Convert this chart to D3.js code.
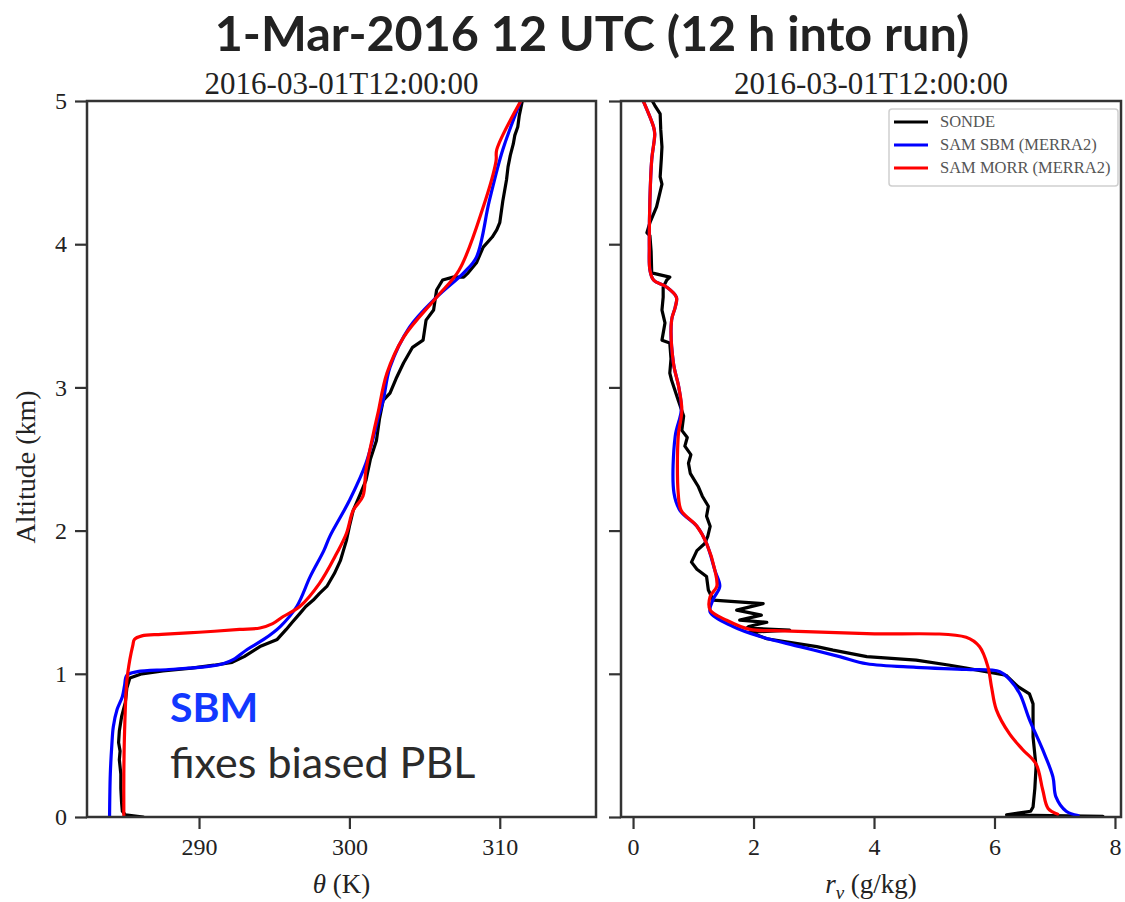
<!DOCTYPE html>
<html>
<head>
<meta charset="utf-8">
<script src="https://cdn.jsdelivr.net/npm/d3@7"></script>
<style>
  html, body { margin: 0; padding: 0; background: #fff; }
  svg { display: block; }
</style>
</head>
<body>
<svg id="chart" width="1125" height="902"></svg>
<script>
// ---- Sounding data: altitude (km) and matching profile values ----
const sondeThetaZ = [0.00, 0.015, 0.04, 0.10, 0.20, 0.30, 0.40, 0.46, 0.52, 0.60, 0.70, 0.80, 0.90, 0.97, 1.00, 1.02, 1.04, 1.06, 1.08, 1.12, 1.19, 1.24, 1.31, 1.36, 1.42, 1.47, 1.515, 1.56, 1.61, 1.70, 1.79, 1.86, 1.93, 2.03, 2.14, 2.25, 2.35, 2.50, 2.63, 2.78, 2.91, 2.96, 3.06, 3.17, 3.28, 3.33, 3.40, 3.47, 3.54, 3.61, 3.68, 3.75, 3.77, 3.77, 3.80, 3.87, 3.98, 4.05, 4.10, 4.15, 4.30, 4.45, 4.54, 4.62, 4.70, 4.76, 4.82, 4.90, 5.00];
const sondeTheta  = [286.3, 285.1, 284.9, 284.85, 284.8, 284.8, 284.7, 284.75, 284.65, 284.7, 284.85, 285.1, 285.2, 285.4, 286.2, 287.6, 289.5, 291.0, 292.2, 293.0, 294.05, 295.2, 295.8, 296.2, 296.7, 297.1, 297.6, 298.0, 298.5, 299.0, 299.4, 299.6, 299.8, 300.0, 300.25, 300.7, 301.1, 301.4, 301.8, 302.0, 302.25, 302.7, 303.1, 303.6, 304.2, 304.9, 305.0, 305.1, 305.6, 305.7, 305.8, 306.2, 306.9, 307.6, 307.9, 308.45, 308.9, 309.5, 309.8, 310.0, 310.2, 310.45, 310.55, 310.7, 310.9, 311.0, 311.2, 311.3, 311.5];

const sbmThetaZ = [0.00, 0.30, 0.50, 0.63, 0.75, 0.84, 0.92, 0.99, 1.015, 1.03, 1.05, 1.07, 1.10, 1.17, 1.24, 1.33, 1.47, 1.68, 1.86, 1.96, 2.21, 2.47, 2.82, 2.91, 3.14, 3.42, 3.63, 3.80, 3.91, 4.30, 4.66, 5.00];
const sbmTheta  = [284.05, 284.1, 284.2, 284.3, 284.55, 284.9, 285.05, 285.2, 285.9, 288.0, 290.5, 291.6, 292.3, 293.2, 294.3, 295.4, 296.5, 297.4, 298.3, 298.7, 300.0, 301.1, 302.0, 302.25, 302.7, 304.0, 305.8, 307.6, 308.45, 309.3, 310.2, 311.4];

const morrThetaZ = [0.00, 0.30, 0.60, 0.95, 1.10, 1.20, 1.24, 1.265, 1.275, 1.29, 1.31, 1.32, 1.35, 1.40, 1.47, 1.63, 1.84, 1.98, 2.14, 2.24, 2.42, 2.68, 2.82, 3.10, 3.35, 3.63, 3.82, 4.26, 4.58, 4.66, 5.00];
const morrTheta  = [285.0, 285.0, 285.05, 285.2, 285.4, 285.6, 285.7, 286.2, 287.5, 290.0, 292.7, 294.05, 294.9, 295.6, 296.7, 298.0, 299.15, 299.8, 300.25, 300.9, 301.1, 301.6, 301.9, 302.5, 303.6, 305.8, 307.3, 308.9, 309.75, 309.8, 311.4];

const sondeRvZ = [0.005, 0.015, 0.04, 0.07, 0.20, 0.35, 0.56, 0.79, 0.86, 0.91, 0.99, 1.04, 1.06, 1.095, 1.12, 1.165, 1.19, 1.245, 1.29, 1.305, 1.32, 1.33, 1.36, 1.375, 1.41, 1.445, 1.49, 1.515, 1.585, 1.68, 1.73, 1.78, 1.86, 1.91, 1.96, 2.03, 2.10, 2.17, 2.24, 2.31, 2.40, 2.47, 2.53, 2.59, 2.65, 2.70, 2.80, 2.91, 3.05, 3.10, 3.20, 3.31, 3.33, 3.45, 3.54, 3.63, 3.70, 3.75, 3.77, 3.80, 3.95, 4.06, 4.08, 4.15, 4.26, 4.42, 4.47, 4.60, 4.68, 4.80, 4.91, 4.97, 5.00];
const sondeRv  = [7.80, 6.20, 6.60, 6.64, 6.67, 6.69, 6.64, 6.64, 6.58, 6.39, 6.19, 5.53, 5.26, 4.70, 3.88, 3.32, 3.05, 2.22, 1.94, 2.60, 1.89, 1.92, 2.22, 1.77, 2.13, 1.72, 2.16, 1.33, 1.25, 1.22, 1.06, 0.97, 1.06, 1.19, 1.24, 1.28, 1.22, 1.25, 1.15, 1.08, 0.95, 0.92, 0.96, 0.86, 0.90, 0.81, 0.84, 0.75, 0.64, 0.61, 0.63, 0.61, 0.48, 0.53, 0.48, 0.50, 0.50, 0.56, 0.61, 0.31, 0.30, 0.28, 0.23, 0.28, 0.39, 0.48, 0.45, 0.47, 0.48, 0.46, 0.45, 0.36, 0.32];

const sbmRvZ = [0.01, 0.04, 0.14, 0.28, 0.47, 0.68, 0.86, 0.96, 1.015, 1.03, 1.045, 1.07, 1.12, 1.19, 1.26, 1.33, 1.43, 1.52, 1.61, 1.72, 1.91, 2.03, 2.14, 2.26, 2.66, 2.84, 3.00, 3.17, 3.47, 3.56, 3.63, 3.70, 3.75, 3.82, 3.98, 4.31, 4.59, 4.77, 4.82, 5.00];
const sbmRv  = [7.39, 7.19, 7.02, 6.97, 6.80, 6.58, 6.42, 6.25, 6.09, 5.53, 4.70, 3.88, 3.43, 2.77, 2.11, 1.66, 1.28, 1.33, 1.44, 1.36, 1.22, 1.06, 0.78, 0.68, 0.70, 0.80, 0.76, 0.67, 0.64, 0.70, 0.72, 0.56, 0.34, 0.28, 0.27, 0.28, 0.31, 0.36, 0.34, 0.17];

const morrRvZ = [0.02, 0.06, 0.19, 0.37, 0.47, 0.58, 0.75, 0.91, 1.05, 1.19, 1.255, 1.28, 1.30, 1.31, 1.375, 1.445, 1.54, 1.61, 1.72, 1.91, 2.03, 2.14, 2.26, 2.66, 2.84, 3.00, 3.17, 3.47, 3.56, 3.63, 3.70, 3.75, 3.82, 3.98, 4.31, 4.59, 4.77, 4.82, 5.00];
const morrRv  = [7.05, 6.89, 6.80, 6.69, 6.47, 6.25, 6.03, 5.95, 5.89, 5.75, 5.53, 3.88, 2.49, 1.94, 1.55, 1.28, 1.28, 1.39, 1.36, 1.22, 1.06, 0.80, 0.75, 0.75, 0.81, 0.76, 0.67, 0.64, 0.70, 0.72, 0.56, 0.34, 0.28, 0.27, 0.28, 0.31, 0.36, 0.34, 0.17];

const altTicks   = [0, 1, 2, 3, 4, 5];
const thetaTicks = [290, 300, 310];
const rvTicks    = [0, 2, 4, 6, 8];

const seriesNames  = ["SONDE", "SAM SBM (MERRA2)", "SAM MORR (MERRA2)"];
const seriesColors = ["#000000", "#0000ff", "#ff0000"];

const mainTitle  = "1-Mar-2016 12 UTC (12 h into run)";
const panelTitle = "2016-03-01T12:00:00";

// ---- Layout ----
const svg = d3.select("#chart");
const SERIF = "'Liberation Serif', 'DejaVu Serif', serif";
const SANS = "Lato, 'Open Sans', sans-serif";
const frameColor = "#333";

const y = d3.scaleLinear().domain([0, 5]).range([817, 101]);
const xTheta = d3.scaleLinear().domain([282.55, 316.4]).range([87, 596]);
const xRv = d3.scaleLinear().domain([-0.2, 8.1]).range([621, 1121]);

const zip = (zs, vs) => zs.map((z, i) => ({ z, v: vs[i] }));

function panel(id, x, ticks, curves, xlabelNode, showYLabels) {
  const [x0, x1] = x.range();
  const g = svg.append("g").attr("class", id);

  g.append("clipPath").attr("id", "clip-" + id)
    .append("rect").attr("x", x0).attr("y", y(5)).attr("width", x1 - x0).attr("height", y(0) - y(5));

  const plot = g.append("g").attr("clip-path", `url(#clip-${id})`);
  curves.forEach(c => {
    const line = d3.line().x(d => x(d.v)).y(d => y(d.z))
      .curve(c.smooth ? d3.curveCatmullRom.alpha(0.5) : d3.curveLinear);
    plot.append("path").datum(c.data)
      .attr("fill", "none").attr("stroke", c.color).attr("stroke-width", 3.2)
      .attr("stroke-linejoin", "round").attr("stroke-linecap", "round")
      .attr("d", line);
  });

  // frame
  g.append("rect").attr("x", x0).attr("y", y(5)).attr("width", x1 - x0).attr("height", y(0) - y(5))
    .attr("fill", "none").attr("stroke", frameColor).attr("stroke-width", 2.5);

  // axes
  const yAxis = d3.axisLeft(y).tickValues(altTicks).tickSize(12).tickPadding(8)
    .tickFormat(showYLabels ? d3.format("d") : () => "");
  const ya = g.append("g").attr("transform", `translate(${x0},0)`).call(yAxis);
  const xAxis = d3.axisBottom(x).tickValues(ticks).tickSize(12).tickPadding(9).tickFormat(d3.format("d"));
  const xa = g.append("g").attr("transform", `translate(0,${y(0)})`).call(xAxis);
  [ya, xa].forEach(a => {
    a.select(".domain").remove();
    a.selectAll(".tick line").attr("stroke", frameColor).attr("stroke-width", 2.2);
    a.selectAll(".tick text").attr("fill", "#222").style("font-family", SERIF).style("font-size", "24px");
  });

  // panel title
  g.append("text").attr("x", (x0 + x1) / 2).attr("y", 94).attr("text-anchor", "middle")
    .style("font-family", SERIF).style("font-size", "31px").attr("fill", "#222")
    .text(panelTitle);

  xlabelNode(g, (x0 + x1) / 2);
  return g;
}

panel("theta", xTheta, thetaTicks, [
  { data: zip(sondeThetaZ, sondeTheta), color: seriesColors[0], smooth: false },
  { data: zip(sbmThetaZ, sbmTheta), color: seriesColors[1], smooth: true },
  { data: zip(morrThetaZ, morrTheta), color: seriesColors[2], smooth: true }
], (g, cx) => {
  const t = g.append("text").attr("x", cx).attr("y", 893).attr("text-anchor", "middle")
    .style("font-family", SERIF).style("font-size", "27px").attr("fill", "#222");
  t.append("tspan").style("font-style", "italic").text("θ");
  t.append("tspan").text(" (K)");
}, true);

panel("rv", xRv, rvTicks, [
  { data: zip(sondeRvZ, sondeRv), color: seriesColors[0], smooth: false },
  { data: zip(sbmRvZ, sbmRv), color: seriesColors[1], smooth: true },
  { data: zip(morrRvZ, morrRv), color: seriesColors[2], smooth: true }
], (g, cx) => {
  const t = g.append("text").attr("x", cx).attr("y", 893).attr("text-anchor", "middle")
    .style("font-family", SERIF).style("font-size", "27px").attr("fill", "#222");
  t.append("tspan").style("font-style", "italic").text("r");
  t.append("tspan").attr("dy", 6).style("font-size", "19px").style("font-style", "italic").text("v");
  t.append("tspan").attr("dy", -6).text(" (g/kg)");
}, false);

// y-axis label
svg.append("text").attr("transform", "translate(35,467) rotate(-90)").attr("text-anchor", "middle")
  .style("font-family", SERIF).style("font-size", "28px").attr("fill", "#222")
  .text("Altitude (km)");

// main title
svg.append("text").attr("x", 592).attr("y", 51).attr("text-anchor", "middle")
  .style("font-family", SANS).style("font-weight", "bold").style("font-size", "48.5px").attr("fill", "#222")
  .text(mainTitle);

// legend
const lg = svg.append("g").attr("class", "legend");
lg.append("rect").attr("x", 889).attr("y", 109).attr("width", 229).attr("height", 77).attr("rx", 3)
  .attr("fill", "#fff").attr("fill-opacity", 0.85).attr("stroke", "#cfcfcf").attr("stroke-width", 1.5);
seriesNames.forEach((name, i) => {
  const cy = 122 + i * 23;
  lg.append("line").attr("x1", 894).attr("x2", 928).attr("y1", cy).attr("y2", cy)
    .attr("stroke", seriesColors[i]).attr("stroke-width", 3.2);
  lg.append("text").attr("x", 940).attr("y", cy + 5)
    .style("font-family", SERIF).style("font-size", "16.5px").attr("fill", "#555")
    .text(name);
});

// annotation
svg.append("text").attr("x", 170).attr("y", 722)
  .style("font-family", SANS).style("font-weight", "bold").style("font-size", "41px").attr("fill", "#1238ff")
  .text("SBM");
svg.append("text").attr("x", 170).attr("y", 778)
  .style("font-family", SANS).style("font-size", "43px").attr("fill", "#2b2b2b")
  .text("fixes biased PBL");
</script>
</body>
</html>
